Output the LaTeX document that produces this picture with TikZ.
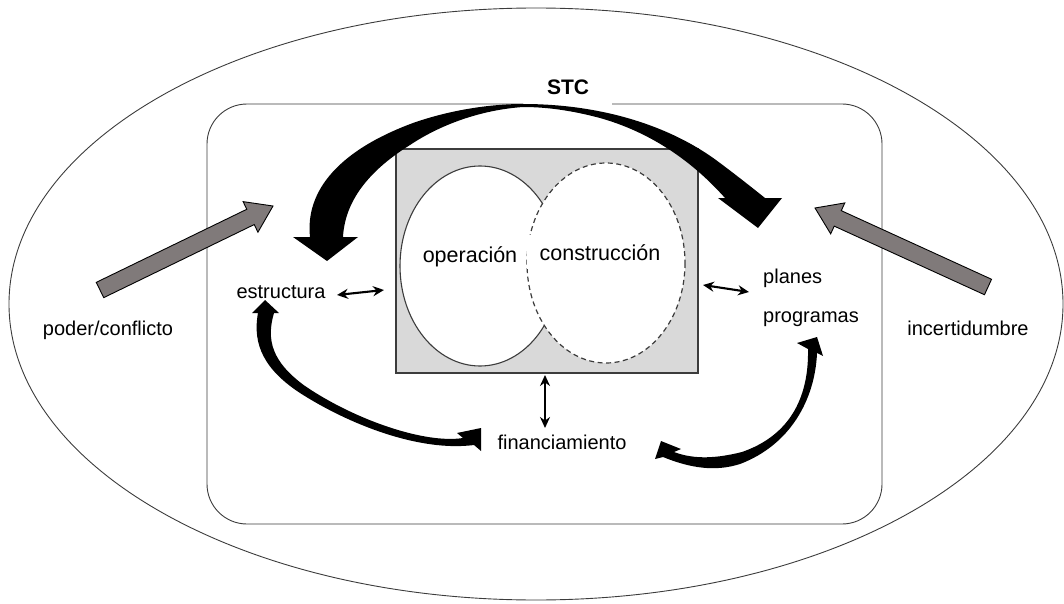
\documentclass[tikz,border=0pt]{standalone}
\usepackage{fontspec}
\setmainfont{Liberation Sans}
\usetikzlibrary{arrows.meta,calc}

\definecolor{boxgray}{RGB}{217,217,217}
\definecolor{forcegray}{RGB}{128,122,122}
\definecolor{linegray}{RGB}{60,60,60}

\tikzset{
  lbl/.style={font=\fontsize{20}{24}\selectfont, inner sep=0pt, anchor=base},
  inlbl/.style={font=\fontsize{21.5}{26}\selectfont, inner sep=0pt, anchor=base},
  thin outline/.style={draw=linegray, line width=0.9pt},
  link/.style={line width=2.1pt, {Stealth[length=11pt,width=10pt]}-{Stealth[length=11pt,width=10pt]}},
  force/.style={fill=forcegray, draw=black, line width=0.9pt, line join=miter},
  flow/.style={fill=black},
}

\begin{document}
\begin{tikzpicture}[x=1pt, y=-1pt]
\useasboundingbox (0,0) rectangle (1064,604);

% environment
\draw[thin outline] (536,304) ellipse [x radius=527, y radius=296];

% STC boundary, open where the label sits
\draw[thin outline, rounded corners=40pt]
  (523,104) -- (207,104) -- (207,524) -- (882,524) -- (882,104) -- (612,104);
\node[font=\bfseries\fontsize{21}{25}\selectfont, inner sep=0pt, anchor=base] (stc) at (568,95) {STC};

% core: operation and construction
\draw[draw=linegray, line width=1.4pt, fill=boxgray] (396,149) rectangle (698,373);
\draw[draw=linegray, line width=1.1pt, fill=white] (480,266) ellipse [x radius=80, y radius=100];
\fill[white] (606,263) ellipse [x radius=79, y radius=100];
\draw[draw=linegray, line width=1.2pt, dash pattern=on 5pt off 3.5pt] (606,263) ellipse [x radius=79, y radius=100];
\node[inlbl] (op) at (470,262) {operación};
\node[inlbl, fill=white, inner xsep=13pt, inner ysep=9pt] (con) at (600,260) {construcción};

% subsystems
\node[lbl] (est) at (281,298) {estructura};
\node[lbl, anchor=base west] (pla) at (763,283) {planes};
\node[lbl, anchor=base west] (pro) at (763,322) {programas};
\node[lbl] (fin) at (562,449) {financiamiento};
\node[lbl] (pod) at (108,335) {poder/conflicto};
\node[lbl] (inc) at (968,335) {incertidumbre};

% links between the core and the subsystems
\coordinate (e1) at (337,295);
\coordinate (e2) at (384,290);
\coordinate (p1) at (703,285);
\coordinate (p2) at (749,292);
\coordinate (f1) at (545,375);
\coordinate (f2) at (545,428);
\draw[link] (e1) -- (e2);
\draw[link] (p1) -- (p2);
\draw[link] (f1) -- (f2);

% external forces
\coordinate (podT) at (100,290);
\coordinate (podH) at (273,206);
\coordinate (podB) at ($(podH)!25pt!(podT)$);
\draw[force]
  ($(podT)!8.5pt!90:(podH)$) -- ($(podB)!8.5pt!-90:(podT)$) -- ($(podB)!17pt!-90:(podT)$)
  -- (podH) -- ($(podB)!17pt!90:(podT)$) -- ($(podB)!8.5pt!90:(podT)$)
  -- ($(podT)!8.5pt!-90:(podH)$) -- cycle;

\coordinate (incT) at (988,287);
\coordinate (incH) at (815,208);
\coordinate (incB) at ($(incH)!25pt!(incT)$);
\draw[force]
  ($(incT)!8.5pt!90:(incH)$) -- ($(incB)!8.5pt!-90:(incT)$) -- ($(incB)!17pt!-90:(incT)$)
  -- (incH) -- ($(incB)!17pt!90:(incT)$) -- ($(incB)!8.5pt!90:(incT)$)
  -- ($(incT)!8.5pt!-90:(incH)$) -- cycle;

% STC acting on structure and plans
\fill[flow] (310,237) -- (293,237) -- (327,261) -- (358,237) -- (343,237)
  .. controls (345,200) and (370,170) .. (410,145)
  .. controls (440,125) and (480,110) .. (523,107)
  .. controls (545,107) and (570,110) .. (600,118)
  .. controls (660,135) and (700,170) .. (725,198)
  -- (718,198) -- (758,228) -- (782,198) -- (765,198)
  .. controls (755,190) and (740,178) .. (720,163)
  .. controls (670,125) and (600,104) .. (523,104)
  .. controls (490,104) and (450,110) .. (413,123)
  .. controls (340,150) and (305,190) .. (310,237) -- cycle;

% structure <-> financing
\fill[flow] (258,313) -- (252,313) -- (265,300) -- (279,313) -- (274,313)
  .. controls (266,340) and (272,362) .. (305,386)
  .. controls (355,420) and (425,444) .. (463,438)
  -- (457,433) -- (481,428) -- (481,451) -- (474,445)
  .. controls (420,452) and (350,425) .. (300,393)
  .. controls (265,370) and (252,345) .. (258,313) -- cycle;

% plans <-> financing
\fill[flow] (808,349) -- (797,343) -- (817,337) -- (823,356) -- (817,353)
  .. controls (815,400) and (790,445) .. (740,464)
  .. controls (715,472) and (690,468) .. (663,457)
  -- (655,459) -- (661,441) -- (681,449) -- (674,452)
  .. controls (695,460) and (718,458) .. (742,452)
  .. controls (788,436) and (809,400) .. (808,349) -- cycle;

\end{tikzpicture}
\end{document}
